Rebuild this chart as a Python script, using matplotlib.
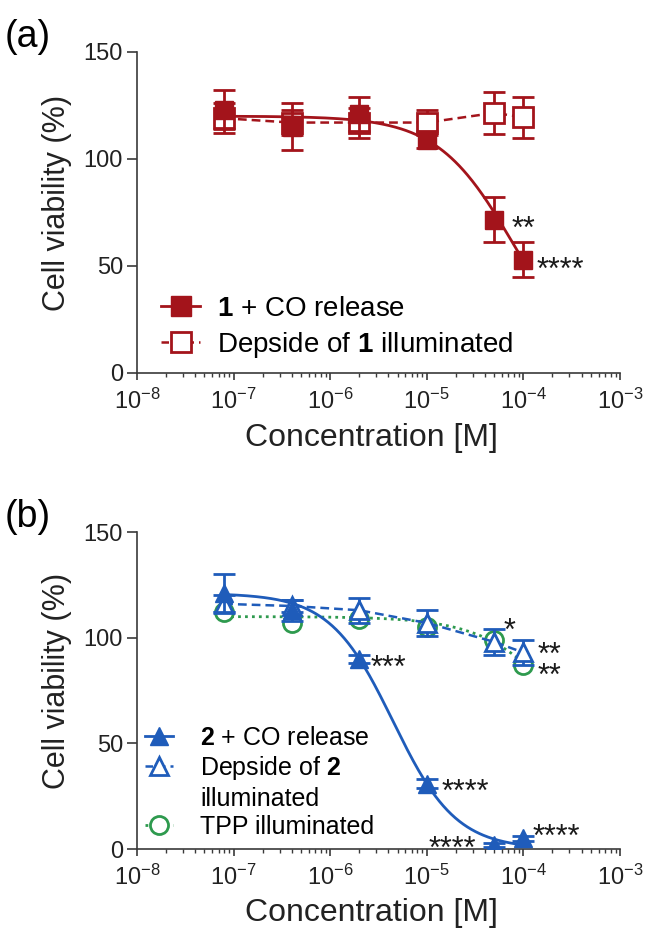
import matplotlib
matplotlib.use('Agg')
import matplotlib.pyplot as plt
import numpy as np

plt.rcParams['font.family'] = ['Liberation Sans', 'DejaVu Sans']
plt.rcParams['mathtext.fontset'] = 'custom'
plt.rcParams['mathtext.rm'] = 'Liberation Sans'
plt.rcParams['mathtext.bf'] = 'Liberation Sans:bold'
plt.rcParams['mathtext.default'] = 'regular'

# concentrations (M)
conc = [8e-8, 4e-7, 2e-6, 1e-5, 5e-5, 1e-4]

# panel (a)
co1_mean = [123, 115, 121, 109, 71.5, 53]
co1_err = [9, 11, 8, 4, 10.5, 8]
dep1_mean = [119, 117, 117, 117, 121.5, 119.5]
dep1_err = [7, 6, 7, 6, 10, 9.5]
# 4PL fit: top, bottom, logIC50, hill
co1_fit = [120, 0, -4.1, 1.1]

# panel (b)
co2_mean = [121, 113, 90, 31, 2, 5]
co2_err = [9, 5, 2, 2, 1, 1]
dep2_mean = [116, 115, 113, 107, 98, 93]
dep2_err = [4, 3, 6, 6, 6, 6]
tpp_mean = [112, 107, 109, 105, 99, 87]
co2_fit = [121, 0, np.log10(4.47e-6), 1.33]
tpp_fit = [110, 0, np.log10(4e-4), 1.0]

# significance marks (y = centre of the last line)
stars_a = [(1e-4, 71, '**'), (2.4e-4, 52, '****')]
stars_b = [(4e-6, 89.5, '***'), (2.5e-5, 31, '****'), (1.86e-5, 4, '****'),
           (2.2e-4, 9.5, '****'), (7.2e-5, 107, '*'), (1.85e-4, 86, '**\n**')]

red = '#a3141b'
blue = '#1f5cba'
green = '#2e9a4e'
axis_col = '#3a3a3a'


def four_pl(x, p):
    top, bottom, logic, hill = p
    return bottom + (top - bottom) / (1 + (x / 10**logic)**hill)


def style(ax):
    ax.set_xscale('log')
    ax.set_xlim(1e-8, 1e-3)
    ax.set_ylim(0, 150)
    ax.set_yticks([0, 50, 100, 150])
    for s in ['top', 'right']:
        ax.spines[s].set_visible(False)
    for s in ['left', 'bottom']:
        ax.spines[s].set_color(axis_col)
        ax.spines[s].set_linewidth(1.2)
    ax.tick_params(axis='y', which='major', length=7, width=1.2, color=axis_col,
                   labelsize=17, pad=3, labelcolor='#222222')
    ax.tick_params(axis='x', which='major', length=5, width=1.2, color=axis_col,
                   labelsize=17, pad=6, labelcolor='#222222')
    ax.tick_params(axis='x', which='minor', length=3, width=1.0, color=axis_col)
    ax.xaxis.set_major_locator(matplotlib.ticker.LogLocator(base=10, numticks=10))
    ax.xaxis.set_minor_locator(matplotlib.ticker.LogLocator(base=10, subs=np.arange(2, 10), numticks=20))
    ax.set_xlabel('Concentration [M]', fontsize=23, color='#222222')
    ax.set_ylabel('Cell viability (%)', fontsize=22, color='#222222')
    ax.xaxis.set_label_coords(0.486, -0.155)
    ax.yaxis.set_label_coords(-0.135, 0.53)


def add_stars(ax, stars):
    for x, y, s in stars:
        ax.annotate(s, xy=(x, y), xytext=(0, -12.5), textcoords='offset points',
                    ha='center', va='baseline', fontsize=22, color='#1a1a1a',
                    linespacing=0.6)


fig = plt.figure(figsize=(6.47, 9.39), dpi=100)
ax1 = fig.add_axes([0.2117, 0.6028, 0.7465, 0.3419])
ax2 = fig.add_axes([0.2117, 0.0958, 0.7465, 0.3376])

xs = np.logspace(np.log10(conc[0]), np.log10(conc[-1]), 300)

# ---- (a)
style(ax1)
ax1.plot(conc, dep1_mean, ls=(0, (3.5, 2)), lw=1.8, color=red, zorder=2)
ax1.errorbar(conc, dep1_mean, yerr=dep1_err, fmt='s', ms=14, mfc='white', mec=red,
             mew=2, ecolor=red, elinewidth=2, capsize=8, capthick=2, zorder=3)
ax1.plot(xs, four_pl(xs, co1_fit), color=red, lw=2, zorder=4)
ax1.errorbar(conc, co1_mean, yerr=co1_err, fmt='s', ms=13, mfc=red, mec=red,
             ecolor=red, elinewidth=2, capsize=8, capthick=2, zorder=5)
add_stars(ax1, stars_a)

h1, = ax1.plot([], [], marker='s', ms=14, color=red, lw=2)
h2, = ax1.plot([], [], marker='s', ms=14, mfc='white', mec=red, mew=2, color=red,
               lw=1.8, ls=(0, (3, 2)))
ax1.legend([h1, h2], [r'$\mathbf{1}$ + CO release', r'Depside of $\mathbf{1}$ illuminated'],
           loc='center left', bbox_to_anchor=(0.05, 0.14), frameon=False,
           fontsize=20, handlelength=1.4, handletextpad=0.6, labelspacing=0.3,
           borderpad=0, borderaxespad=0)
fig.text(28 / 647, 1 - 37 / 939, '(a)', fontsize=27, ha='center', va='center')

# ---- (b)
style(ax2)
ax2.plot(xs, four_pl(xs, tpp_fit), ls=(0, (1, 1.5)), lw=2, color=green, zorder=2)
ax2.plot(conc, tpp_mean, 'o', ms=13, mfc='white', mec=green, mew=2, zorder=3)
ax2.plot(conc, dep2_mean, ls=(0, (3.5, 2)), lw=1.8, color=blue, zorder=4)
ax2.errorbar(conc, dep2_mean, yerr=dep2_err, fmt='^', ms=13, mfc='white', mec=blue,
             mew=2, ecolor=blue, elinewidth=2, capsize=8, capthick=2, zorder=5)
ax2.plot(xs, four_pl(xs, co2_fit), color=blue, lw=2, zorder=6)
ax2.errorbar(conc, co2_mean, yerr=co2_err, fmt='^', ms=13, mfc=blue, mec=blue,
             ecolor=blue, elinewidth=2, capsize=8, capthick=2, zorder=7)
add_stars(ax2, stars_b)

g1, = ax2.plot([], [], marker='^', ms=13, color=blue, lw=2)
g2, = ax2.plot([], [], marker='^', ms=13, mfc='white', mec=blue, mew=2, color=blue,
               lw=1.8, ls=(0, (3, 2)))
g3, = ax2.plot([], [], lw=0)
g4, = ax2.plot([], [], marker='o', ms=13, mfc='white', mec=green, mew=2, color=green,
               lw=2, ls=(0, (1, 1.5)))
ax2.legend([g1, g2, g3, g4],
           [r'$\mathbf{2}$ + CO release', r'Depside of $\mathbf{2}$', 'illuminated',
            'TPP illuminated'],
           loc='center left', bbox_to_anchor=(0.017, 0.21), frameon=False,
           fontsize=18, handlelength=1.1, handletextpad=1.1, labelspacing=0.18,
           borderpad=0, borderaxespad=0)
fig.text(28 / 647, 1 - 517 / 939, '(b)', fontsize=27, ha='center', va='center')

fig.savefig('out.png', dpi=100)
